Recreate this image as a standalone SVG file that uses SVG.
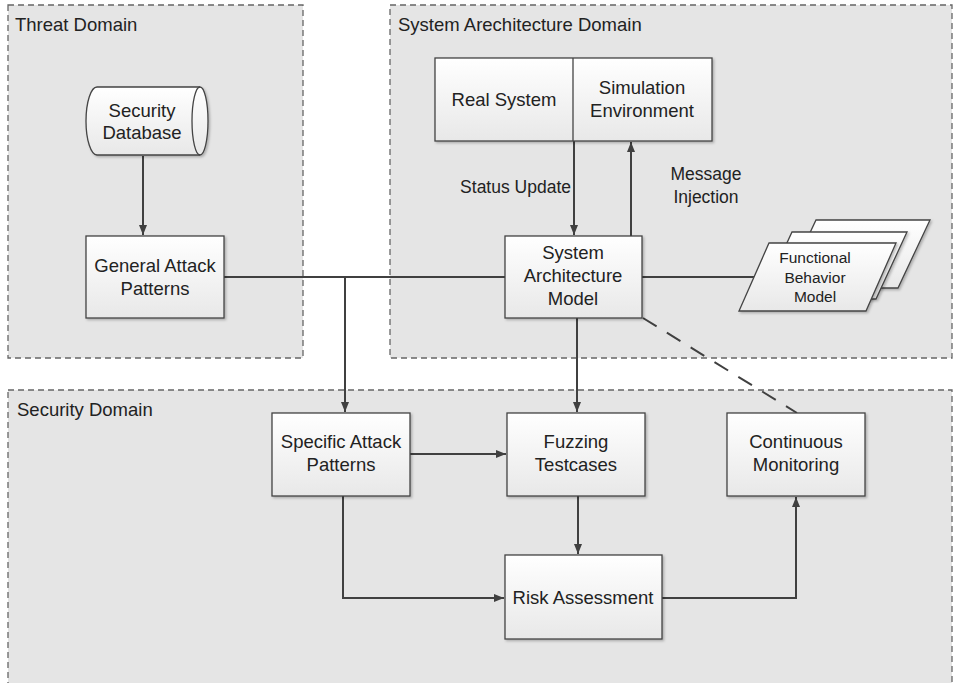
<svg xmlns="http://www.w3.org/2000/svg" width="956" height="683" viewBox="0 0 956 683">
<defs>
<linearGradient id="bg" x1="0" y1="0" x2="0" y2="1">
<stop offset="0" stop-color="#ffffff"/>
<stop offset="1" stop-color="#e8e8e8"/>
</linearGradient>
<filter id="sh" x="-10%" y="-10%" width="125%" height="125%">
<feDropShadow dx="1.5" dy="1.5" stdDeviation="1" flood-color="#000" flood-opacity="0.25"/>
</filter>
<marker id="ah" viewBox="0 0 10 8" refX="10" refY="4" markerWidth="10" markerHeight="8" markerUnits="userSpaceOnUse" orient="auto">
<path d="M0,0 L10,4 L0,8 z" fill="#404040"/>
</marker>
</defs>
<style>
.dom{fill:#e5e5e5;stroke:#666;stroke-width:1.3;stroke-dasharray:6,4}
.dl{font-family:"Liberation Sans",Arial,sans-serif;font-size:18.5px;fill:#222}
.box{fill:url(#bg);stroke:#444;stroke-width:1.3;filter:url(#sh)}
.t{font-family:"Liberation Sans",Arial,sans-serif;font-size:18.5px;fill:#222;text-anchor:middle}
.ts{font-family:"Liberation Sans",Arial,sans-serif;font-size:15.5px;fill:#222;text-anchor:middle}
.c{fill:none;stroke:#404040;stroke-width:2}
.ca{fill:none;stroke:#404040;stroke-width:2;marker-end:url(#ah)}
.cd{fill:none;stroke:#404040;stroke-width:2;stroke-dasharray:16,12}
</style>
<rect width="956" height="683" fill="#ffffff"/>
<g id="threat-domain">
<rect class="dom" x="8" y="5" width="295" height="353"/>
<text class="dl" x="15" y="31">Threat Domain</text>
</g>
<g id="system-architecture-domain">
<rect class="dom" x="390" y="5" width="562" height="353"/>
<text class="dl" x="398" y="31">System Arechitecture Domain</text>
</g>
<g id="security-domain">
<rect class="dom" x="8" y="390" width="944" height="300"/>
<text class="dl" x="17" y="416">Security Domain</text>
</g>
<g id="connectors">
<path class="ca" d="M143,156 V235"/>
<path class="c" d="M224,277 H505"/>
<path class="ca" d="M345,277 V412"/>
<path class="ca" d="M574,141 V235"/>
<path class="ca" d="M631,236 V142"/>
<path class="c" d="M642,277 H754"/>
<path class="ca" d="M577,318 V412"/>
<path class="cd" d="M643,318 L797,413"/>
<path class="ca" d="M410,454 H506"/>
<path class="ca" d="M578,496 V554"/>
<path class="ca" d="M343,496 V598 H504"/>
<path class="ca" d="M662,598 H796 V497"/>
<text class="dl" x="571" y="193" text-anchor="end" style="font-size:17.5px">Status Update</text>
<text class="t" x="706" y="180" style="font-size:17.5px">Message</text>
<text class="t" x="706" y="203" style="font-size:17.5px">Injection</text>
</g>
<g id="security-database">
<path class="box" d="M97,87 H200 A8,34 0 0 1 200,155 H97 A11,34 0 0 1 97,87 Z"/>
<path fill="none" stroke="#444" stroke-width="1.3" d="M200,87 A8,34 0 0 0 200,155"/>
<text class="t" x="142" y="117">Security</text>
<text class="t" x="142" y="139">Database</text>
</g>
<g id="general-attack-patterns">
<rect class="box" x="86" y="236" width="138" height="82"/>
<text class="t" x="155" y="272">General Attack</text>
<text class="t" x="155" y="295">Patterns</text>
</g>
<g id="real-system-simulation">
<rect class="box" x="435" y="58" width="277" height="83"/>
<line x1="573" y1="58" x2="573" y2="141" stroke="#444" stroke-width="1.3"/>
<text class="t" x="504" y="106">Real System</text>
<text class="t" x="642" y="94">Simulation</text>
<text class="t" x="642" y="117">Environment</text>
</g>
<g id="system-architecture-model">
<rect class="box" x="505" y="236" width="137" height="82"/>
<text class="t" x="573" y="259">System</text>
<text class="t" x="573" y="282">Architecture</text>
<text class="t" x="573" y="305">Model</text>
</g>
<g id="functional-behavior-model">
<path class="box" d="M816,220 H930 L898,288 H784 Z"/>
<path class="box" d="M792,232 H907 L876,299 H761 Z"/>
<path class="box" d="M769,243 H896 L866,311 H739 Z"/>
<text class="ts" x="815" y="263">Functional</text>
<text class="ts" x="815" y="283">Behavior</text>
<text class="ts" x="815" y="302">Model</text>
</g>
<g id="specific-attack-patterns">
<rect class="box" x="272" y="413" width="138" height="83"/>
<text class="t" x="341" y="448">Specific Attack</text>
<text class="t" x="341" y="471">Patterns</text>
</g>
<g id="fuzzing-testcases">
<rect class="box" x="507" y="413" width="138" height="83"/>
<text class="t" x="576" y="448">Fuzzing</text>
<text class="t" x="576" y="471">Testcases</text>
</g>
<g id="continuous-monitoring">
<rect class="box" x="727" y="413" width="138" height="83"/>
<text class="t" x="796" y="448">Continuous</text>
<text class="t" x="796" y="471">Monitoring</text>
</g>
<g id="risk-assessment">
<rect class="box" x="505" y="555" width="157" height="84"/>
<text class="t" x="583" y="604">Risk Assessment</text>
</g>
</svg>
